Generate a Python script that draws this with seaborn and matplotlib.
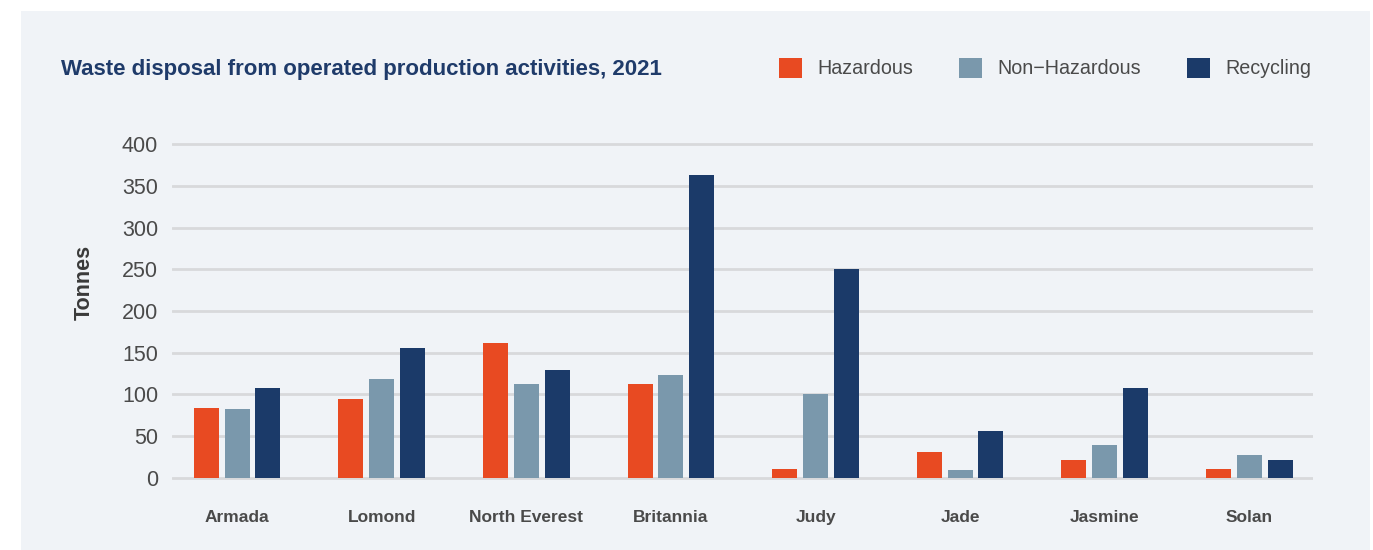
import pandas as pd
import matplotlib.pyplot as plt
import seaborn as sns
from matplotlib.patches import Rectangle

# --- data --------------------------------------------------------------------
fields = ["Armada", "Lomond", "North Everest", "Britannia", "Judy", "Jade", "Jasmine", "Solan"]
hazardous = [84, 95, 162, 113, 11, 31, 22, 11]
non_hazardous = [83, 119, 113, 123, 101, 10, 40, 28]
recycling = [108, 156, 129, 363, 250, 56, 108, 22]
series_names = ["Hazardous", "Non\u2212Hazardous", "Recycling"]
y_ticks = [0, 50, 100, 150, 200, 250, 300, 350, 400]

colors = ["#e84a22", "#7a98ac", "#1b3a69"]
panel = "#f0f3f7"
text_grey = "#4a4a4a"

df = pd.DataFrame({
    "field": fields * 3,
    "type": [s for s in series_names for _ in fields],
    "tonnes": hazardous + non_hazardous + recycling,
})

# --- plot --------------------------------------------------------------------
sns.set_style("white")
plt.rcParams["font.family"] = ["Liberation Sans", "DejaVu Sans"]

fig = plt.figure(figsize=(13.73, 5.5), dpi=100, facecolor="white")
fig.patches.append(Rectangle((21 / 1373, 0), (1370 - 21) / 1373, 1 - 11 / 550,
                             transform=fig.transFigure, facecolor=panel,
                             edgecolor="none", zorder=-10))

ax = fig.add_axes([172 / 1373, 1 - 480.5 / 550, (1313 - 172) / 1373, (480.5 - 141.5) / 550])
ax.set_facecolor(panel)

sns.barplot(data=df, x="field", y="tonnes", hue="type", order=fields,
            hue_order=series_names, palette=colors, width=0.64, gap=0.19,
            linewidth=0, saturation=1, ax=ax)

ax.set_ylim(-3, 403)
ax.set_xlim(-0.45, len(fields) - 0.56)
ax.set_yticks(y_ticks)
ax.grid(True, axis="y", color="#d8d9db", linewidth=2)
ax.set_axisbelow(True)
for s in ax.spines.values():
    s.set_visible(False)
ax.tick_params(axis="both", length=0)
ax.tick_params(axis="y", labelsize=15.5, labelcolor=text_grey, pad=10)
ax.tick_params(axis="x", labelsize=12.5, labelcolor=text_grey, pad=21)
for lab in ax.get_xticklabels():
    lab.set_fontweight("bold")

ax.set_xlabel("")
ax.set_ylabel("Tonnes", fontsize=15.5, fontweight="bold", color="#3a3a3a")
ax.yaxis.set_label_coords(-0.068, 0.583)

fig.text(61 / 1373, 1 - 69 / 550, "Waste disposal from operated production activities, 2021",
         fontsize=16, fontweight="bold", color="#1f3b6a", va="center", ha="left")

handles, labels = ax.get_legend_handles_labels()
ax.legend_.remove()
fig.legend(handles, labels, loc="center right", bbox_to_anchor=(1311 / 1373, 1 - 68 / 550),
           ncol=3, frameon=False, fontsize=14.2, handlelength=1.17, handleheight=1.17,
           handletextpad=0.75, columnspacing=2.35, labelcolor=text_grey,
           borderpad=0, borderaxespad=0)

plt.savefig("out.png", dpi=100, facecolor="white")
